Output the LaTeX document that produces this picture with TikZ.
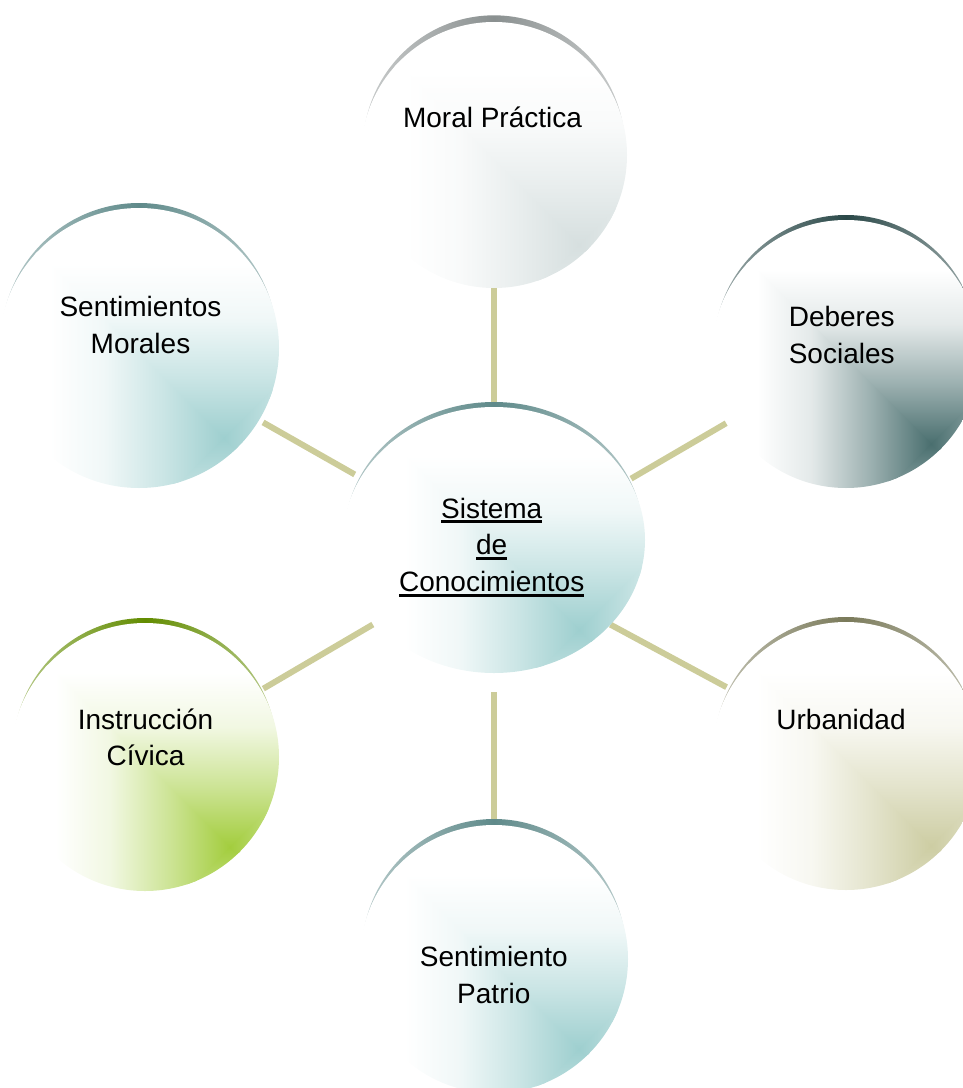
\documentclass[tikz,border=0pt]{standalone}
\usepackage{fontspec}
\setmainfont{Liberation Sans}
\usetikzlibrary{shapes.geometric}
\pgfdeclarelayer{lines}
\pgfdeclarelayer{rims}
\pgfdeclarelayer{fills}
\pgfsetlayers{lines,rims,fills,main}
\definecolor{tealF}{HTML}{9ECFCF}
\definecolor{tealR}{HTML}{5F8A8A}
\definecolor{greyF}{HTML}{D6DFDF}
\definecolor{greyR}{HTML}{8A9090}
\definecolor{dsF}{HTML}{4A6F6F}
\definecolor{dsR}{HTML}{2A4848}
\definecolor{greenF}{HTML}{A3CD3E}
\definecolor{greenR}{HTML}{628C00}
\definecolor{olF}{HTML}{CDCDA3}
\definecolor{olR}{HTML}{7A7A5A}
\definecolor{lineC}{HTML}{CCCC99}
\colorlet{bubcol}{tealF}
\pgfdeclarehorizontalshading[bubcol]{sqL}{100bp}{color(0bp)=(white); color(46bp)=(white); color(55bp)=(bubcol!15!white); color(65bp)=(bubcol!55!white); color(75bp)=(bubcol); color(100bp)=(bubcol)}
\pgfdeclarehorizontalshading[bubcol]{sqR}{100bp}{color(0bp)=(bubcol); color(25bp)=(bubcol); color(35bp)=(bubcol!55!white); color(45bp)=(bubcol!15!white); color(54bp)=(white); color(100bp)=(white)}
\pgfdeclareverticalshading[bubcol]{sqT}{100bp}{color(0bp)=(bubcol); color(25bp)=(bubcol); color(35bp)=(bubcol!55!white); color(45bp)=(bubcol!15!white); color(54bp)=(white); color(100bp)=(white)}
\pgfdeclareverticalshading[bubcol]{sqB}{100bp}{color(0bp)=(white); color(46bp)=(white); color(55bp)=(bubcol!15!white); color(65bp)=(bubcol!55!white); color(75bp)=(bubcol); color(100bp)=(bubcol)}
% #1 cx, #2 cy (px), #3 colour, #4 clip path
\newcommand\bubfill[4]{%
  \begin{scope}
    \colorlet{bubcol}{#3}%
    \clip #4;
    \begin{scope}[shift={(#1+85,#2+90)}]
      \shade[shading=sqT] (-300,-300) -- (300,-300) -- (300,-294) -- (6,0) -- (-6,0) -- (-300,-294) -- cycle;
      \shade[shading=sqB] (-300,300) -- (300,300) -- (300,294) -- (6,0) -- (-6,0) -- (-300,294) -- cycle;
      \shade[shading=sqL] (0,0) -- (-300,-300) -- (-300,300) -- cycle;
      \shade[shading=sqR] (0,0) -- (300,-300) -- (300,300) -- cycle;
    \end{scope}
  \end{scope}}
% #1 node, #2 cy (px), #3 upward shift, #4 x radius, #5 y radius, #6 colour
\newcommand\rimarc[6]{%
  \begin{scope}
    \clip (-20,-20) rectangle (1000,#2-25);
    \shade[left color=#6!45!white, right color=#6!45!white, middle color=#6]
      ([yshift=#3]#1.center) ellipse [x radius=#4, y radius=#5];
  \end{scope}}
\newcommand\twol[2]{\begin{tabular}[t]{@{}c@{}}#1\\#2\end{tabular}}
\newcommand\myul[1]{\leavevmode\setbox0\hbox{#1}\rlap{\rule[-4pt]{\wd0}{2.3pt}}\box0}
\tikzset{
  bub/.style={circle, inner sep=0pt, outer sep=0pt},
  lbl/.style={anchor=base, inner sep=0pt, font=\fontsize{21}{27.5}\selectfont, text=black},
  conn/.style={draw=lineC, line width=4.5pt}
}
\begin{document}
\begin{tikzpicture}[x=0.75pt, y=-0.75pt]
\useasboundingbox (0,0) rectangle (963,1088);
% bubble outlines (named)
\node[bub, minimum size=199.5pt] (mp) at (494,155) {};
\node[bub, minimum size=210pt] (sm) at (139,348) {};
\node[bub, minimum size=201pt] (ds) at (846,354) {};
\node[ellipse, inner sep=0pt, outer sep=0pt, minimum width=226.5pt, minimum height=199.5pt] (c) at (494,540) {};
\node[bub, minimum size=201pt] (ic) at (145,757) {};
\node[bub, minimum size=201pt] (ur) at (846,756) {};
\node[bub, minimum size=201pt] (sp) at (494,959) {};
% gradient fills
\begin{pgfonlayer}{fills}
\bubfill{494}{155}{greyF}{(mp.center) circle [radius=99.75pt]}
\bubfill{139}{348}{tealF}{(sm.center) circle [radius=105pt]}
\bubfill{846}{354}{dsF}{(ds.center) circle [radius=100.5pt]}
\bubfill{494}{540}{tealF}{(c.center) ellipse [x radius=113.25pt, y radius=99.75pt]}
\bubfill{145}{757}{greenF}{(ic.center) circle [radius=100.5pt]}
\bubfill{846}{756}{olF}{(ur.center) circle [radius=100.5pt]}
\bubfill{494}{959}{tealF}{(sp.center) circle [radius=100.5pt]}
\end{pgfonlayer}
% rims
\begin{pgfonlayer}{rims}
\rimarc{mp}{155}{5pt}{98.25pt}{99.75pt}{greyR}
\rimarc{sm}{348}{3.75pt}{103.5pt}{105pt}{tealR}
\rimarc{ds}{354}{3.75pt}{99pt}{100.5pt}{dsR}
\rimarc{c}{540}{3.75pt}{111.75pt}{99.75pt}{tealR}
\rimarc{ic}{757}{3.75pt}{99pt}{100.5pt}{greenR}
\rimarc{ur}{756}{3.75pt}{99pt}{100.5pt}{olR}
\rimarc{sp}{959}{4.5pt}{99pt}{100.5pt}{tealR}
\end{pgfonlayer}
% connectors
\begin{pgfonlayer}{lines}
\draw[conn] (mp.south) -- (c.north);
\draw[conn, shorten <=3.5pt, shorten >=5pt] (sm.-31.7) -- (c.155.2);
\draw[conn, shorten <=3.3pt, shorten >=2pt] (ds.-150.1) -- (c.24.9);
\draw[conn, shorten <=2pt, shorten >=2.6pt] (ic.30.3) -- (c.215.6);
\draw[conn, shorten <=2.9pt] (ur.150.5) -- (c.-36.1);
\draw[conn, shorten <=14.25pt] (c.south) -- (sp.north);
\end{pgfonlayer}
% labels
\node[lbl] (tmp) at (492.5,127) {Moral Práctica};
\node[lbl] (tsm) at (140.5,316.7) {\twol{Sentimientos}{Morales}};
\node[lbl] (tds) at (841.7,326.7) {\twol{Deberes}{Sociales}};
\node[lbl] (tc) at (491.7,518) {\begin{tabular}[t]{@{}c@{}}\myul{Sistema}\\\myul{de}\\\myul{Conocimientos}\end{tabular}};
\node[lbl] (tic) at (145.5,729) {\twol{Instrucción}{Cívica}};
\node[lbl] (tur) at (841,729) {Urbanidad};
\node[lbl] (tsp) at (493.8,966.7) {\twol{Sentimiento}{Patrio}};
\end{tikzpicture}
\end{document}
